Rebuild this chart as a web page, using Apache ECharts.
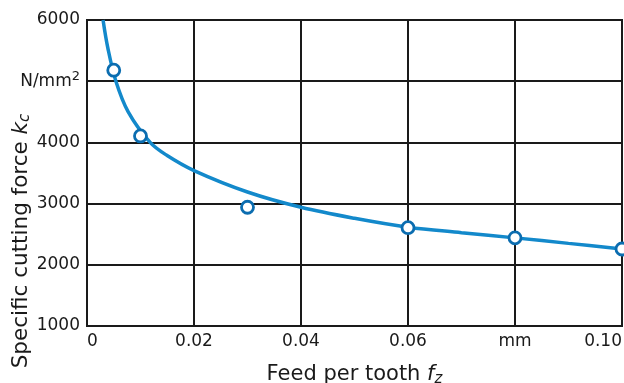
<!DOCTYPE html>
<html>
<head>
<meta charset="utf-8">
<script src="https://cdn.jsdelivr.net/npm/echarts@6/dist/echarts.min.js"></script>
<style>html,body{margin:0;padding:0;background:#fff}#c{width:624px;height:383px}</style>
</head>
<body>
<div id="c"></div>
<script>
// measured points
const pointFeed = [0.005, 0.010, 0.030, 0.060, 0.080, 0.100];
const pointForce = [5180, 4105, 2940, 2606, 2440, 2258];
// fitted curve
const curveFeed = [0.0030, 0.0039, 0.0054, 0.0077, 0.0118, 0.0149, 0.0200, 0.0300, 0.0400, 0.0500, 0.0600, 0.0700, 0.0800, 0.0900, 0.1000];
const curveForce = [6000, 5540, 5000, 4500, 4000, 3790, 3540, 3190, 2940, 2760, 2615, 2525, 2440, 2350, 2260];
// tick labels
const xTicks = {0: '0', 0.02: '0.02', 0.04: '0.04', 0.06: '0.06', 0.08: 'mm', 0.1: '0.10'};
const yTicks = {1000: '1000', 2000: '2000', 3000: '3000', 4000: '4000', 5000: 'N/mm{sup|2}', 6000: '6000'};

const FONT = '"DejaVu Sans", "Liberation Sans", sans-serif';
const TXT = '#1a1a1a';
const chart = echarts.init(document.getElementById('c'), null, {renderer: 'canvas'});
const lineBlue = '#1389cb';
const markBlue = '#0b6db0';

chart.setOption({
  animation: false,
  backgroundColor: '#fff',
  grid: {left: 87, top: 20, right: 2, bottom: 57, containLabel: false, outerBoundsMode: 'none',
         show: true, borderColor: '#1a1a1a', borderWidth: 2},
  xAxis: {
    type: 'value', min: 0, max: 0.1, interval: 0.02,
    name: 'Feed per tooth {i|f}{sub|z}', nameLocation: 'middle', nameGap: 37,
    nameTextStyle: {fontFamily: FONT, fontSize: 21, color: TXT,
      rich: {i: {fontFamily: FONT, fontSize: 21, fontStyle: 'italic', color: TXT},
             sub: {fontFamily: FONT, fontSize: 15, fontStyle: 'italic', color: TXT, padding: [9, 0, 0, 0]}}},
    axisLine: {show: true, lineStyle: {color: '#1a1a1a', width: 2}},
    axisTick: {show: false},
    splitLine: {show: true, lineStyle: {color: '#1a1a1a', width: 2}},
    axisLabel: {fontFamily: FONT, fontSize: 17, color: TXT, margin: 7,
      alignMinLabel: 'left', alignMaxLabel: 'right', showMaxLabel: true, showMinLabel: true,
      formatter: v => { const k = Math.round(v * 100) / 100; return xTicks[k] !== undefined ? xTicks[k] : ''; }}
  },
  yAxis: {
    type: 'value', min: 1000, max: 6000, interval: 1000,
    axisLine: {show: true, lineStyle: {color: '#1a1a1a', width: 2}},
    axisTick: {show: false},
    splitLine: {show: true, lineStyle: {color: '#1a1a1a', width: 2}},
    axisLabel: {fontFamily: FONT, fontSize: 17, color: TXT, margin: 7,
      formatter: v => yTicks[v] !== undefined ? yTicks[v] : '',
      rich: {sup: {fontFamily: FONT, fontSize: 13, color: TXT, padding: [0, 0, 10, 0]}}}
  },
  graphic: [{
    type: 'text', x: 21, y: 241, rotation: Math.PI / 2,
    style: {
      text: 'Specific cutting force {i|k}{sub|c}',
      fontFamily: FONT, fontSize: 21.5, fill: TXT, align: 'center', verticalAlign: 'middle',
      rich: {i: {fontFamily: FONT, fontSize: 21.5, fontStyle: 'italic', fill: TXT},
             sub: {fontFamily: FONT, fontSize: 15, fontStyle: 'italic', fill: TXT, padding: [9, 0, 0, 0]}}
    }
  }],
  series: [
    {type: 'line', smooth: 0.35, showSymbol: false, clip: true,
     data: curveFeed.map((x, i) => [x, curveForce[i]]),
     lineStyle: {color: lineBlue, width: 3.5}, z: 3},
    {type: 'scatter', symbol: 'circle', symbolSize: 12, clip: false,
     data: pointFeed.map((x, i) => [x, pointForce[i]]),
     itemStyle: {color: '#fff', opacity: 1, borderColor: markBlue, borderWidth: 2.8}, z: 4}
  ]
});
</script>
</body>
</html>
